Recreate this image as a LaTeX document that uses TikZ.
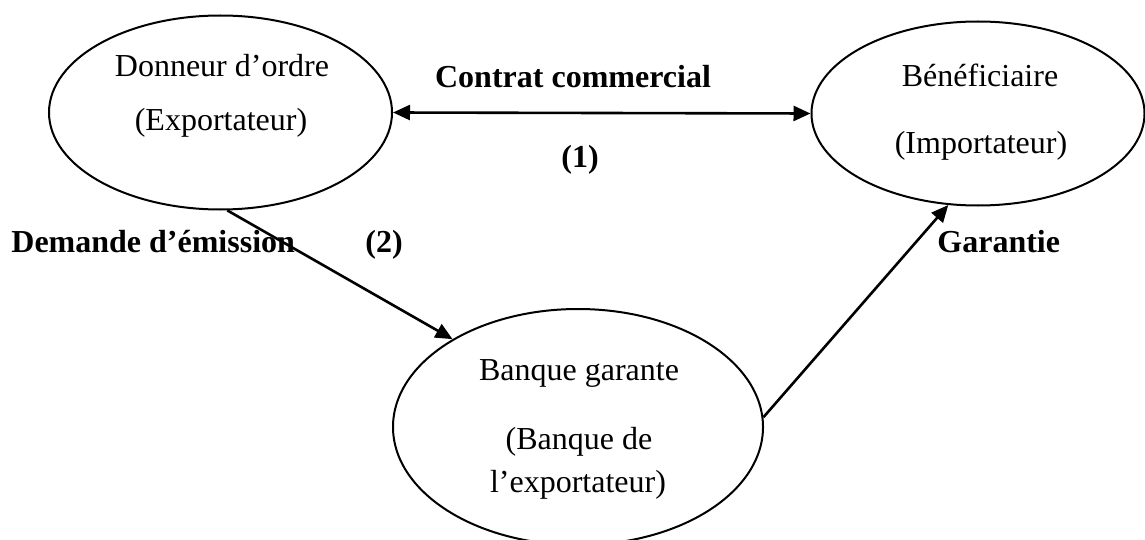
\documentclass[tikz,border=0pt]{standalone}
\usepackage{fontspec}
\setmainfont{Liberation Serif}
\usetikzlibrary{shapes.geometric,arrows.meta}
\begin{document}
\begin{tikzpicture}[x=0.5pt,y=-0.5pt,
  party/.style={draw, ellipse, line width=1pt, inner sep=0pt},
  lbl/.style={font=\fontsize{16}{19}\selectfont, inner sep=0pt, anchor=base},
  tag/.style={lbl, font=\fontsize{16}{19}\selectfont\bfseries},
  flow/.style={line width=1.3pt, -{Triangle[length=8.5pt,width=7.5pt]}},
  bothways/.style={line width=1.3pt, {Triangle[length=8.5pt,width=7.5pt]}-{Triangle[length=8.5pt,width=7.5pt]}},
]
\useasboundingbox (0,0) rectangle (1145,540);

% the three parties
\node[party, minimum width=171.5pt, minimum height=97pt] (exp) at (220.5,112.5) {};
\node[party, minimum width=166.5pt, minimum height=92pt] (imp) at (978,113.5) {};
\node[party, minimum width=185pt, minimum height=118pt] (bank) at (578,427) {};

% party names
\node[lbl] (exp1) at (222,77) {Donneur d’ordre};
\node[lbl] (exp2) at (221,131) {(Exportateur)};
\node[lbl] (imp1) at (980,87) {Bénéficiaire};
\node[lbl] (imp2) at (981,154) {(Importateur)};
\node[lbl] (bank1) at (579,380) {Banque garante};
\node[lbl] (bank2) at (579,449) {(Banque de};
\node[lbl] (bank3) at (578,492) {l’exportateur)};

% flows between the parties
\draw[bothways] (exp.east) -- (imp.west);
\draw[flow] (exp.-86) -- (bank.145);
\draw[flow] (bank.3) -- (imp.252);

% flow labels
\node[tag] (contrat) at (573,88) {Contrat commercial};
\node[tag] (n1) at (580,167) {(1)};
\node[tag, anchor=base west] (demande) at (11,252) {Demande d’émission};
\node[tag, anchor=base west] (n2) at (365,252) {(2)};
\node[tag, anchor=base west] (garantie) at (937,252) {Garantie};
\end{tikzpicture}
\end{document}
